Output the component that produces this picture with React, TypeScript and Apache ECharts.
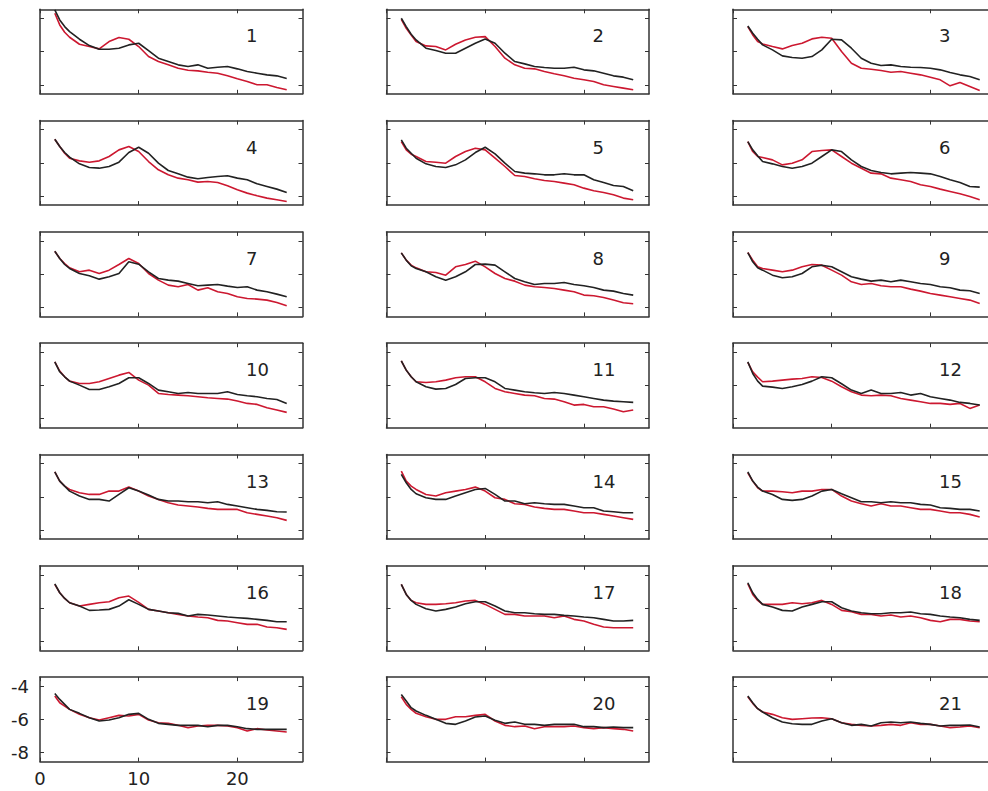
import React, { useEffect, useRef } from "react";
import * as echarts from "echarts";

// shared x sampling grid
const X = [1.5, 2, 2.5, 3, 4, 5, 6, 7, 8, 9, 10, 11, 12, 13, 14, 15, 16, 17, 18, 19, 20, 21, 22, 23, 24, 25];

const black1 = [-3.5, -4.1, -4.5, -4.8, -5.26, -5.64, -5.86, -5.86, -5.8, -5.6, -5.5, -5.94, -6.4, -6.6, -6.8, -6.9, -6.8, -7.0, -6.94, -6.9, -7.04, -7.2, -7.3, -7.4, -7.46, -7.62];
const red1 = [-3.7, -4.4, -4.84, -5.14, -5.56, -5.7, -5.84, -5.4, -5.16, -5.26, -5.7, -6.3, -6.6, -6.8, -7.0, -7.12, -7.16, -7.24, -7.3, -7.46, -7.64, -7.8, -8.0, -8.0, -8.16, -8.3];
const black2 = [-4.0, -4.5, -4.96, -5.3, -5.8, -5.94, -6.1, -6.1, -5.8, -5.5, -5.24, -5.5, -6.1, -6.6, -6.74, -6.9, -6.96, -7.0, -7.0, -6.94, -7.1, -7.16, -7.3, -7.46, -7.54, -7.7];
const red2 = [-4.06, -4.6, -5.0, -5.4, -5.66, -5.7, -5.9, -5.56, -5.3, -5.14, -5.1, -5.7, -6.4, -6.8, -7.0, -7.04, -7.2, -7.34, -7.46, -7.6, -7.7, -7.8, -8.0, -8.1, -8.2, -8.3];
const black3 = [-4.46, -4.9, -5.26, -5.6, -5.9, -6.26, -6.36, -6.4, -6.3, -5.9, -5.26, -5.3, -5.8, -6.4, -6.7, -6.84, -6.8, -6.9, -6.94, -6.96, -7.0, -7.1, -7.26, -7.4, -7.5, -7.7];
const red3 = [-4.5, -5.0, -5.4, -5.54, -5.7, -5.84, -5.64, -5.5, -5.24, -5.14, -5.2, -6.0, -6.7, -7.0, -7.06, -7.14, -7.24, -7.2, -7.3, -7.4, -7.54, -7.7, -8.06, -7.86, -8.1, -8.34];
const black4 = [-4.58, -5.02, -5.38, -5.66, -6.06, -6.28, -6.32, -6.22, -5.96, -5.38, -5.06, -5.42, -6.02, -6.46, -6.66, -6.86, -6.96, -6.88, -6.82, -6.78, -6.92, -7.02, -7.26, -7.42, -7.58, -7.78];
const red4 = [-4.58, -5.02, -5.42, -5.72, -5.88, -5.96, -5.88, -5.62, -5.22, -5.02, -5.32, -5.92, -6.42, -6.72, -6.92, -7.02, -7.16, -7.12, -7.18, -7.38, -7.62, -7.82, -7.98, -8.12, -8.22, -8.32];
const black5 = [-4.62, -5.12, -5.42, -5.72, -6.06, -6.22, -6.28, -6.12, -5.82, -5.38, -5.06, -5.46, -6.02, -6.52, -6.62, -6.66, -6.72, -6.72, -6.66, -6.72, -6.72, -7.02, -7.18, -7.36, -7.42, -7.68];
const red5 = [-4.72, -5.22, -5.48, -5.62, -5.92, -5.96, -6.02, -5.62, -5.32, -5.12, -5.22, -5.72, -6.22, -6.76, -6.82, -6.96, -7.06, -7.12, -7.22, -7.32, -7.52, -7.68, -7.78, -7.92, -8.12, -8.22];
const black6 = [-4.72, -5.22, -5.58, -5.92, -6.06, -6.22, -6.32, -6.22, -6.02, -5.62, -5.22, -5.32, -5.82, -6.22, -6.46, -6.58, -6.66, -6.62, -6.58, -6.62, -6.66, -6.82, -7.02, -7.18, -7.42, -7.46];
const red6 = [-4.72, -5.32, -5.62, -5.68, -5.82, -6.12, -6.02, -5.82, -5.32, -5.26, -5.22, -5.62, -6.02, -6.32, -6.62, -6.66, -6.92, -7.02, -7.12, -7.32, -7.42, -7.58, -7.72, -7.86, -8.02, -8.22];
const black7 = [-4.62, -5.06, -5.42, -5.66, -5.96, -6.1, -6.3, -6.16, -5.96, -5.25, -5.4, -5.86, -6.26, -6.36, -6.42, -6.56, -6.7, -6.66, -6.62, -6.72, -6.8, -6.76, -6.96, -7.06, -7.2, -7.36];
const red7 = [-4.62, -5.06, -5.36, -5.62, -5.86, -5.76, -5.96, -5.76, -5.42, -5.06, -5.36, -5.96, -6.36, -6.66, -6.76, -6.62, -6.96, -6.82, -7.06, -7.16, -7.36, -7.46, -7.5, -7.56, -7.7, -7.9];
const black8 = [-4.72, -5.16, -5.5, -5.66, -5.86, -6.16, -6.36, -6.16, -5.86, -5.42, -5.4, -5.46, -5.86, -6.26, -6.46, -6.62, -6.56, -6.56, -6.5, -6.62, -6.7, -6.8, -6.96, -7.02, -7.16, -7.26];
const red8 = [-4.72, -5.16, -5.46, -5.62, -5.86, -5.9, -6.06, -5.56, -5.42, -5.22, -5.56, -5.96, -6.26, -6.42, -6.66, -6.76, -6.8, -6.86, -6.96, -7.06, -7.26, -7.3, -7.4, -7.56, -7.72, -7.78];
const black9 = [-4.7, -5.26, -5.62, -5.76, -6.06, -6.22, -6.16, -5.96, -5.56, -5.46, -5.56, -5.86, -6.16, -6.3, -6.42, -6.36, -6.46, -6.36, -6.46, -6.56, -6.62, -6.76, -6.82, -6.96, -7.0, -7.16];
const red9 = [-4.7, -5.16, -5.56, -5.66, -5.76, -5.86, -5.76, -5.56, -5.42, -5.46, -5.76, -6.06, -6.46, -6.62, -6.56, -6.7, -6.76, -6.76, -6.9, -7.02, -7.16, -7.26, -7.36, -7.46, -7.56, -7.76];
const black10 = [-4.58, -5.18, -5.48, -5.74, -5.98, -6.24, -6.24, -6.08, -5.88, -5.54, -5.54, -5.88, -6.28, -6.38, -6.48, -6.42, -6.48, -6.48, -6.48, -6.38, -6.54, -6.62, -6.68, -6.78, -6.84, -7.08];
const red10 = [-4.58, -5.14, -5.48, -5.74, -5.88, -5.88, -5.78, -5.58, -5.38, -5.22, -5.68, -5.98, -6.48, -6.54, -6.58, -6.62, -6.68, -6.74, -6.78, -6.82, -6.94, -7.08, -7.14, -7.34, -7.48, -7.62];
const black11 = [-4.52, -5.08, -5.48, -5.78, -6.08, -6.22, -6.18, -5.94, -5.58, -5.54, -5.54, -5.78, -6.18, -6.28, -6.38, -6.44, -6.48, -6.42, -6.48, -6.58, -6.68, -6.78, -6.88, -6.94, -6.98, -7.02];
const red11 = [-4.52, -5.08, -5.48, -5.78, -5.82, -5.78, -5.68, -5.54, -5.48, -5.48, -5.78, -6.18, -6.38, -6.48, -6.58, -6.62, -6.78, -6.82, -6.98, -7.18, -7.14, -7.28, -7.28, -7.42, -7.58, -7.48];
const black12 = [-4.58, -5.28, -5.74, -6.04, -6.1, -6.18, -6.08, -5.94, -5.74, -5.48, -5.54, -5.9, -6.28, -6.48, -6.28, -6.48, -6.48, -6.42, -6.58, -6.48, -6.68, -6.78, -6.88, -7.02, -7.08, -7.18];
const red12 = [-4.62, -5.18, -5.5, -5.78, -5.74, -5.68, -5.62, -5.58, -5.48, -5.52, -5.74, -6.08, -6.38, -6.58, -6.62, -6.58, -6.62, -6.78, -6.88, -6.98, -7.08, -7.08, -7.14, -7.08, -7.38, -7.18];
const black13 = [-4.5, -5.06, -5.36, -5.66, -5.96, -6.16, -6.16, -6.26, -5.86, -5.46, -5.66, -5.9, -6.16, -6.26, -6.26, -6.3, -6.3, -6.36, -6.3, -6.46, -6.56, -6.66, -6.76, -6.82, -6.9, -6.92];
const red13 = [-4.5, -5.06, -5.36, -5.56, -5.76, -5.86, -5.86, -5.66, -5.66, -5.42, -5.66, -5.96, -6.16, -6.36, -6.5, -6.56, -6.62, -6.7, -6.76, -6.76, -6.76, -6.96, -7.06, -7.16, -7.26, -7.42];
const black14 = [-4.66, -5.16, -5.56, -5.82, -6.06, -6.16, -6.16, -5.96, -5.76, -5.56, -5.5, -5.86, -6.26, -6.26, -6.42, -6.36, -6.42, -6.46, -6.46, -6.56, -6.66, -6.66, -6.86, -6.9, -6.96, -6.96];
const red14 = [-4.46, -5.06, -5.36, -5.56, -5.86, -5.96, -5.76, -5.66, -5.56, -5.42, -5.66, -6.06, -6.16, -6.42, -6.46, -6.62, -6.7, -6.76, -6.76, -6.86, -6.96, -6.96, -7.06, -7.16, -7.26, -7.36];
const black15 = [-4.5, -5.06, -5.42, -5.66, -5.86, -6.16, -6.22, -6.16, -5.96, -5.66, -5.56, -5.82, -6.06, -6.3, -6.3, -6.36, -6.3, -6.36, -6.36, -6.46, -6.5, -6.66, -6.7, -6.76, -6.76, -6.86];
const red15 = [-4.56, -5.06, -5.46, -5.66, -5.66, -5.7, -5.76, -5.66, -5.66, -5.56, -5.56, -5.96, -6.26, -6.42, -6.56, -6.42, -6.56, -6.56, -6.66, -6.76, -6.76, -6.86, -6.96, -6.96, -7.06, -7.22];
const black16 = [-4.54, -5.08, -5.42, -5.68, -5.88, -6.14, -6.12, -6.08, -5.88, -5.5, -5.78, -6.08, -6.18, -6.28, -6.32, -6.48, -6.38, -6.42, -6.48, -6.54, -6.58, -6.62, -6.68, -6.74, -6.82, -6.82];
const red16 = [-4.58, -5.08, -5.42, -5.68, -5.88, -5.78, -5.68, -5.62, -5.38, -5.28, -5.66, -6.08, -6.18, -6.28, -6.38, -6.48, -6.54, -6.58, -6.74, -6.78, -6.88, -6.98, -6.98, -7.14, -7.18, -7.28];
const black17 = [-4.58, -5.18, -5.54, -5.78, -6.04, -6.18, -6.08, -5.94, -5.74, -5.62, -5.62, -5.88, -6.18, -6.28, -6.28, -6.34, -6.38, -6.38, -6.44, -6.48, -6.54, -6.58, -6.68, -6.78, -6.78, -6.74];
const red17 = [-4.58, -5.18, -5.54, -5.68, -5.78, -5.78, -5.74, -5.68, -5.58, -5.54, -5.78, -6.08, -6.38, -6.38, -6.48, -6.48, -6.48, -6.58, -6.48, -6.68, -6.78, -6.98, -7.14, -7.18, -7.18, -7.18];
const black18 = [-4.48, -5.08, -5.48, -5.78, -5.94, -6.14, -6.18, -5.94, -5.78, -5.62, -5.62, -5.98, -6.18, -6.28, -6.34, -6.34, -6.28, -6.28, -6.24, -6.34, -6.38, -6.48, -6.54, -6.58, -6.68, -6.74];
const red18 = [-4.54, -5.18, -5.54, -5.78, -5.78, -5.78, -5.68, -5.74, -5.68, -5.54, -5.78, -6.14, -6.22, -6.38, -6.38, -6.48, -6.42, -6.54, -6.48, -6.58, -6.74, -6.82, -6.68, -6.68, -6.78, -6.82];
const black19 = [-4.44, -4.8, -5.1, -5.4, -5.64, -5.9, -6.1, -6.04, -5.9, -5.7, -5.64, -6.0, -6.24, -6.3, -6.36, -6.36, -6.36, -6.44, -6.36, -6.36, -6.44, -6.56, -6.6, -6.6, -6.6, -6.6];
const red19 = [-4.6, -5.0, -5.2, -5.4, -5.7, -5.9, -6.04, -5.9, -5.76, -5.8, -5.7, -6.04, -6.2, -6.24, -6.36, -6.5, -6.4, -6.36, -6.36, -6.4, -6.5, -6.7, -6.56, -6.64, -6.7, -6.76];
const black20 = [-4.5, -4.9, -5.3, -5.5, -5.76, -6.0, -6.24, -6.3, -6.1, -5.86, -5.8, -6.06, -6.24, -6.16, -6.3, -6.3, -6.36, -6.3, -6.3, -6.3, -6.44, -6.44, -6.5, -6.46, -6.5, -6.5];
const red20 = [-4.64, -5.1, -5.4, -5.64, -5.84, -6.0, -6.0, -5.84, -5.84, -5.76, -5.7, -6.1, -6.36, -6.44, -6.4, -6.56, -6.44, -6.44, -6.44, -6.4, -6.5, -6.56, -6.5, -6.56, -6.6, -6.7];
const black21 = [-4.6, -5.0, -5.36, -5.56, -5.9, -6.16, -6.26, -6.3, -6.3, -6.1, -5.96, -6.2, -6.36, -6.3, -6.4, -6.2, -6.16, -6.2, -6.16, -6.24, -6.3, -6.4, -6.36, -6.36, -6.34, -6.46];
const red21 = [-4.64, -5.04, -5.36, -5.56, -5.7, -5.9, -6.0, -5.96, -5.92, -5.9, -5.96, -6.2, -6.3, -6.36, -6.4, -6.36, -6.3, -6.36, -6.2, -6.3, -6.3, -6.4, -6.5, -6.46, -6.4, -6.5];

const BLACK = [black1, black2, black3, black4, black5, black6, black7, black8, black9, black10, black11, black12, black13, black14, black15, black16, black17, black18, black19, black20, black21];
const RED = [red1, red2, red3, red4, red5, red6, red7, red8, red9, red10, red11, red12, red13, red14, red15, red16, red17, red18, red19, red20, red21];
const PANEL_LABELS = ["1", "2", "3", "4", "5", "6", "7", "8", "9", "10", "11", "12", "13", "14", "15", "16", "17", "18", "19", "20", "21"];
const X_TICKS = [0, 10, 20];
const Y_TICKS = [-8, -6, -4];

// layout (pixels)
const COL_LEFT = [40, 386.5, 733];
const BOX_W = 262.5;
const ROW_TOP0 = 9.3;
const ROW_PITCH = 111.3;
const BOX_H = 84.5;
const X_MIN = 0;
const X_MAX = 26.6;
const Y_MIN = -8.54;
const Y_MAX = -3.46;
const LABELED_PANEL = 18;
const FONT = '"DejaVu Sans", "Liberation Sans", Arial, sans-serif';
const AXIS_COLOR = "#333333";
const CHART_W = 1020; // wider than the window: the third column is cut off by the frame
const VIEW_W = 988;
const VIEW_H = 791;

export default function App() {
  const ref = useRef<HTMLDivElement>(null);

  useEffect(() => {
    if (!ref.current) return;
    const chart = echarts.init(ref.current, undefined, { renderer: "svg" });

    const grids: any[] = [];
    const xAxes: any[] = [];
    const yAxes: any[] = [];
    const series: any[] = [];
    const graphics: any[] = [];

    for (let i = 0; i < BLACK.length; i++) {
      const r = Math.floor(i / 3);
      const c = i % 3;
      const left = COL_LEFT[c];
      const top = ROW_TOP0 + r * ROW_PITCH;
      grids.push({
        left,
        top,
        width: BOX_W,
        height: BOX_H,
        containLabel: false,
        outerBoundsMode: "none",
        show: false,
      });
      const showLabels = i === LABELED_PANEL;

      const axisLine = { show: true, onZero: false, lineStyle: { color: AXIS_COLOR, width: 1.5 } };
      const tick = (vals: number[]) => ({
        show: true,
        inside: true,
        length: 4,
        customValues: vals,
        lineStyle: { color: AXIS_COLOR, width: 1 },
      });

      xAxes.push({
        type: "value",
        gridIndex: i,
        position: "bottom",
        min: X_MIN,
        max: X_MAX,
        axisLine,
        axisTick: tick(X_TICKS),
        axisLabel: {
          show: showLabels,
          customValues: X_TICKS,
          margin: 8,
          fontSize: 18,
          color: "#222",
          fontFamily: FONT,
        },
        splitLine: { show: false },
      });
      xAxes.push({
        type: "value",
        gridIndex: i,
        position: "top",
        min: X_MIN,
        max: X_MAX,
        axisLine,
        axisTick: tick(X_TICKS),
        axisLabel: { show: false },
        splitLine: { show: false },
      });
      yAxes.push({
        type: "value",
        gridIndex: i,
        position: "left",
        min: Y_MIN,
        max: Y_MAX,
        axisLine,
        axisTick: tick(Y_TICKS),
        axisLabel: {
          show: showLabels,
          customValues: Y_TICKS,
          margin: 11,
          fontSize: 18,
          color: "#222",
          fontFamily: FONT,
        },
        splitLine: { show: false },
      });
      yAxes.push({
        type: "value",
        gridIndex: i,
        position: "right",
        min: Y_MIN,
        max: Y_MAX,
        axisLine,
        axisTick: tick(Y_TICKS),
        axisLabel: { show: false },
        splitLine: { show: false },
      });

      series.push({
        type: "line",
        xAxisIndex: 2 * i,
        yAxisIndex: 2 * i,
        data: X.map((x, k) => [x, RED[i][k]]),
        showSymbol: false,
        symbol: "none",
        lineStyle: { color: "#cc1830", width: 1.6 },
        itemStyle: { color: "#cc1830" },
        z: 2,
      });
      series.push({
        type: "line",
        xAxisIndex: 2 * i,
        yAxisIndex: 2 * i,
        data: X.map((x, k) => [x, BLACK[i][k]]),
        showSymbol: false,
        symbol: "none",
        lineStyle: { color: "#222222", width: 1.6 },
        itemStyle: { color: "#222222" },
        z: 3,
      });

      graphics.push({
        type: "text",
        x: left + 206,
        y: top + 26.5,
        style: {
          text: PANEL_LABELS[i],
          fontSize: 18,
          fontFamily: FONT,
          fill: "#222",
          align: "left",
          verticalAlign: "middle",
        },
      });
    }

    chart.setOption({
      animation: false,
      backgroundColor: "#ffffff",
      grid: grids,
      xAxis: xAxes,
      yAxis: yAxes,
      series,
      graphic: graphics,
    });

    return () => chart.dispose();
  }, []);

  return (
    <div
      style={{
        position: "absolute",
        left: 0,
        top: 0,
        width: VIEW_W,
        height: VIEW_H,
        overflow: "hidden",
        background: "#fff",
      }}
    >
      <div ref={ref} style={{ width: CHART_W, height: VIEW_H }} />
    </div>
  );
}
